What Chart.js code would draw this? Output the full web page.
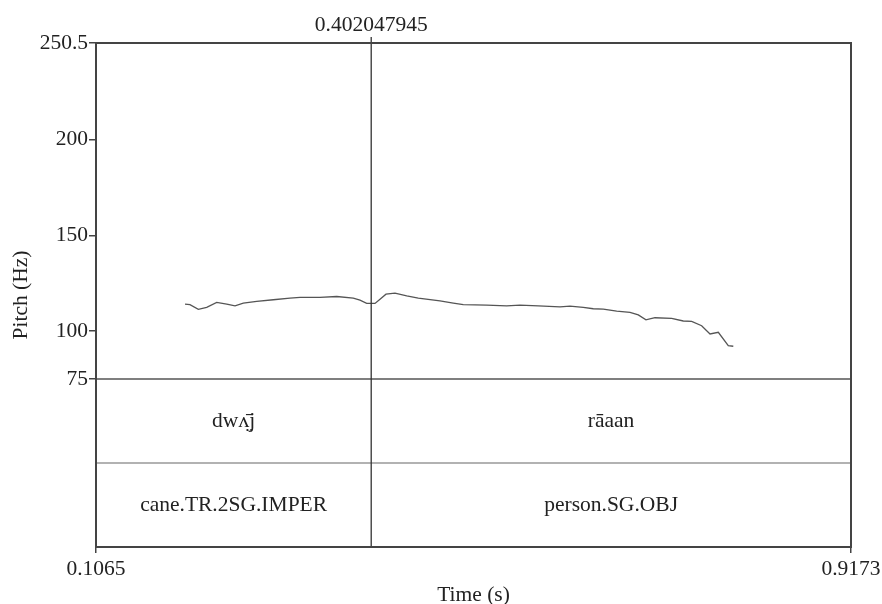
<!DOCTYPE html>
<html>
<head>
<meta charset="utf-8">
<script src="https://cdn.jsdelivr.net/npm/chart.js@4.4.1/dist/chart.umd.min.js"></script>
<style>
  html, body { margin: 0; padding: 0; background: #fff; }
  #wrap { width: 882px; height: 604px; }
</style>
</head>
<body>
<div id="wrap"><canvas id="pitchChart" width="882" height="604"></canvas></div>
<script>
// pitch track (time in s, pitch in Hz)
const pitchTimes = [0.2021, 0.2074, 0.2164, 0.2254, 0.2361, 0.2469, 0.2558, 0.2647, 0.2791, 0.2969,
    0.3148, 0.3256, 0.3470, 0.3650, 0.3828, 0.3900, 0.3972, 0.4061, 0.4115, 0.4179,
    0.4276, 0.4402, 0.4526, 0.4759, 0.4902, 0.5009, 0.5261, 0.5475, 0.5618, 0.5815,
    0.6048, 0.6155, 0.6298, 0.6405, 0.6513, 0.6657, 0.6800, 0.6889, 0.6971, 0.7068,
    0.7247, 0.7372, 0.7462, 0.7569, 0.7659, 0.7748, 0.7855, 0.7909];
const pitchValues = [114.1, 113.8, 111.4, 112.4, 115.0, 114.1, 113.2, 114.6, 115.5, 116.4,
    117.2, 117.6, 117.6, 118.1, 117.2, 116.2, 114.5, 114.5, 116.7, 119.3,
    119.9, 118.4, 117.2, 115.8, 114.6, 113.8, 113.6, 113.2, 113.6, 113.2,
    112.7, 113.1, 112.4, 111.7, 111.5, 110.5, 109.8, 108.5, 105.9, 107.0,
    106.7, 105.3, 105.1, 102.8, 98.5, 99.4, 92.4, 92.1];

// axes
const timeMin = 0.1065;
const timeMax = 0.9173;
const timeTicks = [0.1065, 0.9173];
const pitchMin = 75;
const pitchMax = 250.5;
const pitchTicks = [75, 100, 150, 200, 250.5];

// text grid
const boundaryTime = 0.402047945;
const boundaryLabel = '0.402047945';
const tier1Labels = ['dwʌ̤̄j', 'rāaan'];
const tier2Labels = ['cane.TR.2SG.IMPER', 'person.SG.OBJ'];

// pitch area takes 2/3 of the box, the two tiers share the rest
const yBottom = pitchMax - (pitchMax - pitchMin) * 1.5;

const FONT = '"Liberation Serif", "Times New Roman", serif';
const FSIZE = 21.5;

const textGridPlugin = {
    id: 'textGrid',
    afterDatasetsDraw(chart) {
        const ctx = chart.ctx;
        const area = chart.chartArea;
        const x = chart.scales.x;
        const y = chart.scales.y;
        const y75 = y.getPixelForValue(pitchMin);
        const tierH = (area.bottom - y75) / 2;
        const bx = x.getPixelForValue(boundaryTime);

        ctx.save();
        // tier lines
        ctx.lineWidth = 1.5;
        ctx.strokeStyle = '#555';
        ctx.beginPath();
        ctx.moveTo(area.left, y75);
        ctx.lineTo(area.right, y75);
        ctx.stroke();
        ctx.strokeStyle = '#999';
        ctx.beginPath();
        ctx.moveTo(area.left, y75 + tierH);
        ctx.lineTo(area.right, y75 + tierH);
        ctx.stroke();

        // boundary
        ctx.strokeStyle = '#333';
        ctx.lineWidth = 1.3;
        ctx.beginPath();
        ctx.moveTo(bx, area.top - 6);
        ctx.lineTo(bx, area.bottom);
        ctx.stroke();

        // frame
        ctx.strokeStyle = '#444';
        ctx.lineWidth = 2;
        ctx.strokeRect(area.left, area.top, area.right - area.left, area.bottom - area.top);

        // labels
        ctx.fillStyle = '#222';
        ctx.font = FSIZE + 'px ' + FONT;
        ctx.textAlign = 'center';
        ctx.textBaseline = 'middle';
        ctx.fillText(boundaryLabel, bx, area.top - 18);
        const edges = [area.left, bx, area.right];
        for (let i = 0; i < 2; i++) {
            const cx = (edges[i] + edges[i + 1]) / 2;
            ctx.fillText(tier1Labels[i], cx, y75 + tierH / 2);
            ctx.fillText(tier2Labels[i], cx, y75 + tierH * 1.5);
        }
        ctx.restore();
    }
};

const ctx = document.getElementById('pitchChart').getContext('2d');

new Chart(ctx, {
    type: 'scatter',
    data: {
        datasets: [{
            label: 'Pitch',
            data: pitchTimes.map((t, i) => ({x: t, y: pitchValues[i]})),
            showLine: true,
            borderColor: '#555',
            borderWidth: 1.3,
            pointRadius: 0,
            tension: 0
        }]
    },
    options: {
        responsive: false,
        animation: false,
        layout: {
            padding: {top: 43, right: 31, left: 0, bottom: 0}
        },
        plugins: {
            legend: {display: false},
            tooltip: {enabled: false}
        },
        scales: {
            x: {
                type: 'linear',
                min: timeMin,
                max: timeMax,
                afterBuildTicks: scale => { scale.ticks = timeTicks.map(v => ({value: v})); },
                afterFit: scale => {
                    scale.height = 57;
                    scale.paddingRight = 0;
                    scale.paddingLeft = 0;
                },
                grid: {drawOnChartArea: false, drawTicks: true, tickLength: 6, color: '#444', lineWidth: 1.5},
                border: {display: false},
                ticks: {
                    color: '#222',
                    font: {family: FONT, size: FSIZE},
                    padding: 3,
                    maxRotation: 0,
                    callback: v => String(v)
                },
                title: {
                    display: true,
                    text: 'Time (s)',
                    color: '#222',
                    font: {family: FONT, size: FSIZE},
                    padding: {top: 0, bottom: -4}
                }
            },
            y: {
                type: 'linear',
                min: yBottom,
                max: pitchMax,
                afterBuildTicks: scale => { scale.ticks = pitchTicks.map(v => ({value: v})); },
                afterFit: scale => { scale.width = 96; },
                grid: {drawOnChartArea: false, drawTicks: true, tickLength: 7, color: '#444', lineWidth: 1.5},
                border: {display: false},
                ticks: {
                    color: '#222',
                    font: {family: FONT, size: FSIZE},
                    padding: 1,
                    callback: v => String(v)
                },
                title: {
                    display: true,
                    text: 'Pitch (Hz)',
                    color: '#222',
                    font: {family: FONT, size: FSIZE},
                    padding: {top: 8, bottom: 0}
                }
            }
        }
    },
    plugins: [textGridPlugin]
});
</script>
</body>
</html>
